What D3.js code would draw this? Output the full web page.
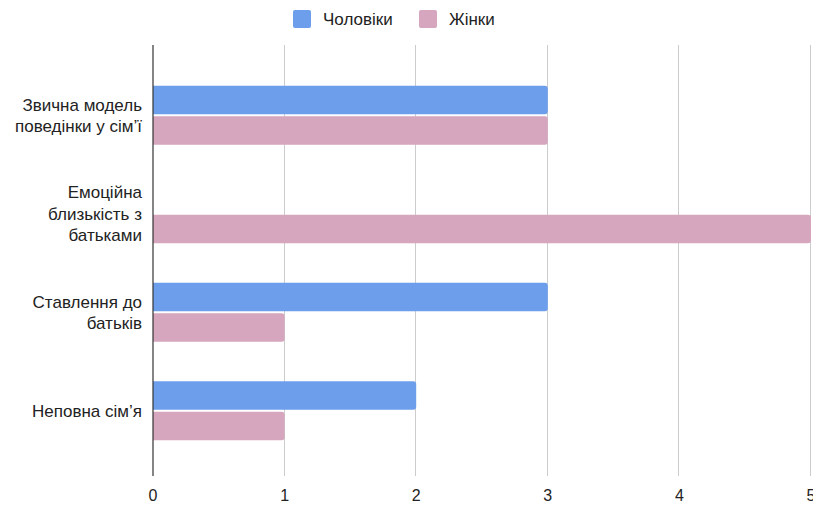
<!DOCTYPE html>
<html lang="uk">
<head>
<meta charset="utf-8">
<title>Чоловіки / Жінки</title>
<style>
  body { margin: 0; background: #fff; }
  svg { display: block; font-family: "Liberation Sans", Arial, sans-serif; }
  .grid line { stroke: #cccccc; stroke-width: 1; }
  .cat { font-size: 17px; fill: #222; }
  .tick-label { font-size: 16px; fill: #222; }
  .legend text { font-size: 17px; fill: #222; }
</style>
</head>
<body>
<svg id="chart" width="813" height="506"></svg>
<script src="https://d3js.org/d3.v7.min.js"></script>
<script>
var categories = [
  ["Звична модель", "поведінки у сім’ї"],
  ["Емоційна", "близькість з", "батьками"],
  ["Ставлення до", "батьків"],
  ["Неповна сім’я"]
];
var seriesNames = ["Чоловіки", "Жінки"];
var men = [3, 0, 3, 2];
var women = [3, 5, 1, 1];
var xTicks = [0, 1, 2, 3, 4, 5];
var colors = ["#6d9eeb", "#d5a6bd"];

var svg = d3.select("#chart"),
    plotTop = 45, plotBottom = 476;

var x = d3.scaleLinear().domain([0, 5]).range([153, 811]);
var y = d3.scaleBand().domain(d3.range(categories.length)).range([66, 460]);
// the pair of bars fills the middle 60% of each band
var inner = d3.scaleBand().domain([0, 1])
  .range([y.bandwidth() * 0.2, y.bandwidth() * 0.8])
  .paddingInner(0.07);

// gridlines
svg.append("g").attr("class", "grid")
  .selectAll("line").data(xTicks.slice(1)).enter().append("line")
  .attr("x1", function(d) { return Math.round(x(d)) - 0.5; })
  .attr("x2", function(d) { return Math.round(x(d)) - 0.5; })
  .attr("y1", plotTop).attr("y2", plotBottom);

// bars
var data = [];
categories.forEach(function(c, i) {
  data.push({ cat: i, s: 0, v: men[i] });
  data.push({ cat: i, s: 1, v: women[i] });
});

function barPath(d) {
  var x0 = x(0), x1 = x(d.v), y0 = y(d.cat) + inner(d.s), h = inner.bandwidth(), r = 3;
  if (x1 - x0 < r) return "";
  return "M" + x0 + "," + y0 +
    "H" + (x1 - r) + "A" + r + "," + r + " 0 0 1 " + x1 + "," + (y0 + r) +
    "V" + (y0 + h - r) + "A" + r + "," + r + " 0 0 1 " + (x1 - r) + "," + (y0 + h) +
    "H" + x0 + "Z";
}

svg.append("g").selectAll("path").data(data).enter().append("path")
  .attr("d", barPath)
  .attr("fill", function(d) { return colors[d.s]; });

// zero axis
svg.append("line")
  .attr("x1", x(0)).attr("x2", x(0))
  .attr("y1", plotTop).attr("y2", plotBottom)
  .attr("stroke", "#333").attr("stroke-width", 1.2);

// x tick labels
svg.append("g").selectAll("text").data(xTicks).enter().append("text")
  .attr("class", "tick-label")
  .attr("x", function(d) { return x(d); })
  .attr("y", 501)
  .attr("text-anchor", "middle")
  .text(function(d) { return d; });

// category labels
var lineH = 21.5;
var catG = svg.append("g").selectAll("text").data(categories).enter().append("text")
  .attr("class", "cat")
  .attr("text-anchor", "end")
  .attr("x", 142)
  .attr("y", function(d, i) { return y(i) + y.bandwidth() / 2 - (d.length - 1) * lineH / 2 + 6; });
catG.selectAll("tspan").data(function(d) { return d; }).enter().append("tspan")
  .attr("x", 142)
  .attr("dy", function(d, j) { return j === 0 ? 0 : lineH; })
  .text(function(d) { return d; });

// legend
var legendX = [293, 419];
var legend = svg.append("g").attr("class", "legend")
  .selectAll("g").data(seriesNames).enter().append("g")
  .attr("transform", function(d, i) { return "translate(" + legendX[i] + ",10)"; });
legend.append("rect")
  .attr("width", 18).attr("height", 18).attr("rx", 2)
  .attr("fill", function(d, i) { return colors[i]; });
legend.append("text")
  .attr("x", 30).attr("y", 15)
  .text(function(d) { return d; });
</script>
</body>
</html>
